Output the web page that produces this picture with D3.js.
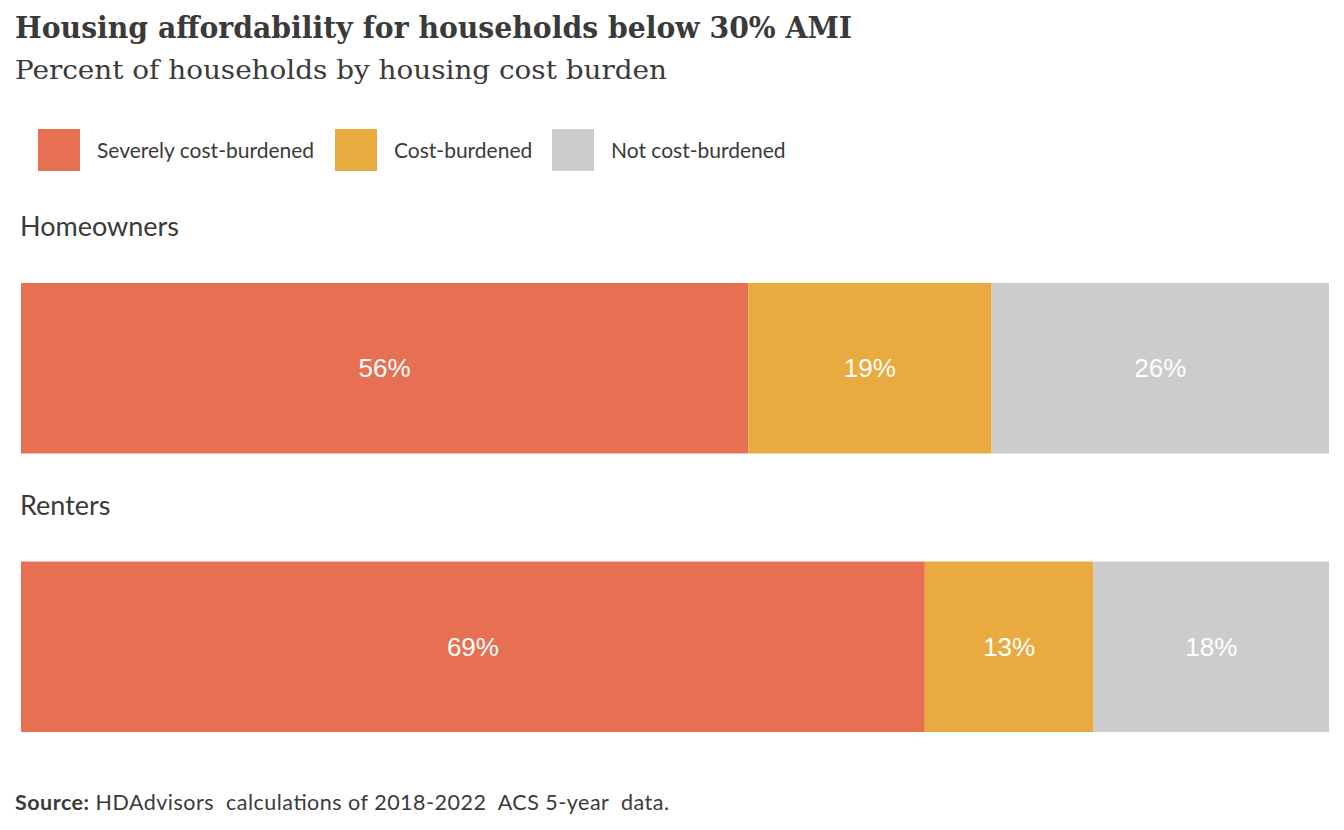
<!DOCTYPE html>
<html>
<head>
<meta charset="utf-8">
<script src="https://cdn.jsdelivr.net/npm/d3@7"></script>
<style>
  html, body { margin: 0; padding: 0; background: #fff; }
  svg { display: block; }
</style>
</head>
<body>
<svg id="chart" width="1344" height="830"></svg>
<script>
// Data
const groups = ['Homeowners', 'Renters'];
const categories = ['Severely cost-burdened', 'Cost-burdened', 'Not cost-burdened'];
const severe = [55.6, 69.1];
const burdened = [18.6, 12.9];
const notBurdened = [25.8, 18.0];
const colors = ['#E87052', '#E9AA3F', '#CCCCCC'];

const svg = d3.select('#chart');
const textColor = '#3a3a3a';

// Title and subtitle
svg.append('text')
  .attr('x', 15).attr('y', 38)
  .attr('font-family', 'DejaVu Serif')
  .attr('font-weight', 'bold')
  .attr('font-size', '30px')
  .attr('fill', textColor)
  .attr('textLength', 837)
  .attr('lengthAdjust', 'spacingAndGlyphs')
  .text('Housing affordability for households below 30% AMI');

svg.append('text')
  .attr('x', 15).attr('y', 79)
  .attr('font-family', 'DejaVu Serif')
  .attr('font-size', '26px')
  .attr('fill', textColor)
  .attr('textLength', 652)
  .attr('lengthAdjust', 'spacingAndGlyphs')
  .text('Percent of households by housing cost burden');

// Legend
const legendX = [38, 335, 552];
const legend = svg.append('g');
categories.forEach((c, i) => {
  legend.append('rect')
    .attr('x', legendX[i]).attr('y', 129)
    .attr('width', 42).attr('height', 42)
    .attr('fill', colors[i]);
  legend.append('text')
    .attr('x', legendX[i] + 59).attr('y', 158)
    .attr('font-family', 'Lato')
    .attr('font-size', '21px')
    .attr('fill', textColor)
    .text(c);
});

// Scales
const x = d3.scaleLinear().domain([0, 100]).range([21, 1329]);
const y = d3.scaleBand().domain(groups).range([283, 732]).paddingInner(0.388).paddingOuter(0);

const series = [severe, burdened, notBurdened];
const rows = groups.map((g, gi) => {
  let acc = 0;
  return {
    group: g,
    segs: series.map((s, si) => {
      const seg = { key: categories[si], x0: acc, x1: acc + s[gi], v: s[gi], color: colors[si] };
      acc += s[gi];
      return seg;
    })
  };
});

const rowG = svg.selectAll('g.row')
  .data(rows)
  .enter()
  .append('g')
  .attr('class', 'row');

rowG.append('text')
  .attr('x', 20)
  .attr('y', d => y(d.group) - 47)
  .attr('font-family', 'Lato')
  .attr('font-size', '27px')
  .attr('fill', textColor)
  .text(d => d.group);

rowG.selectAll('rect')
  .data(d => d.segs.map(s => ({ ...s, group: d.group })))
  .enter()
  .append('rect')
  .attr('x', d => x(d.x0))
  .attr('y', d => y(d.group))
  .attr('width', d => x(d.x1) - x(d.x0))
  .attr('height', y.bandwidth())
  .attr('fill', d => d.color);

rowG.selectAll('text.val')
  .data(d => d.segs.map(s => ({ ...s, group: d.group })))
  .enter()
  .append('text')
  .attr('class', 'val')
  .attr('x', d => (x(d.x0) + x(d.x1)) / 2)
  .attr('y', d => y(d.group) + y.bandwidth() / 2 + 9)
  .attr('text-anchor', 'middle')
  .attr('font-family', 'Liberation Sans, Arial, sans-serif')
  .attr('font-size', '26px')
  .attr('fill', '#ffffff')
  .text(d => Math.round(d.v) + '%');

// Source note
const src = svg.append('text')
  .attr('x', 15).attr('y', 810)
  .attr('font-family', 'Lato')
  .attr('font-size', '21.5px')
  .attr('fill', textColor)
  .style('white-space', 'pre')
  .attr('textLength', 654)
  .attr('lengthAdjust', 'spacing');
src.append('tspan').attr('font-weight', 'bold').text('Source:');
src.append('tspan').text(' HDAdvisors  calculations of 2018-2022  ACS 5-year  data.');
</script>
</body>
</html>
